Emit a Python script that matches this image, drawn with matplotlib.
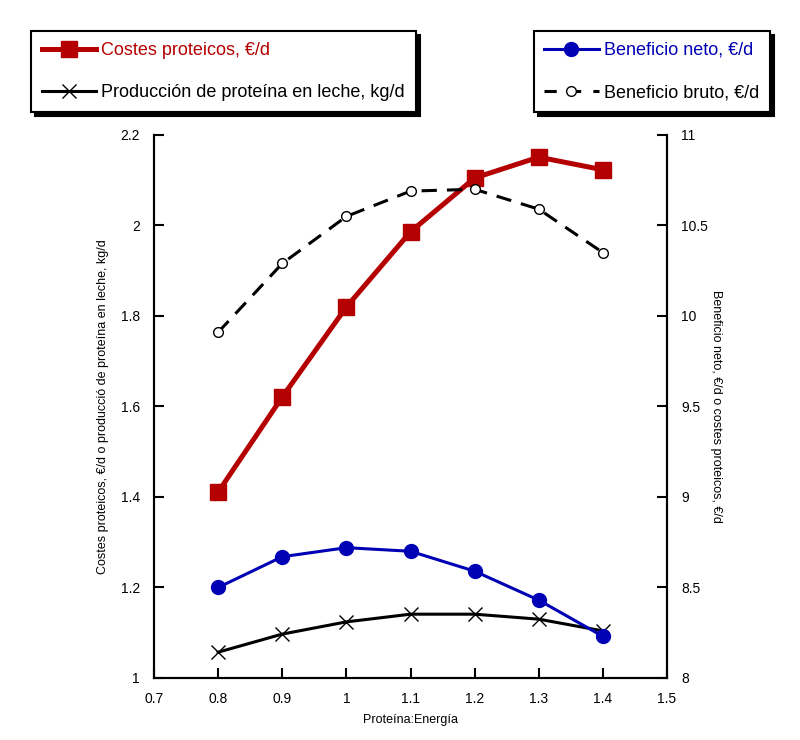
import matplotlib
matplotlib.use("Agg")
import matplotlib.pyplot as plt
from matplotlib.lines import Line2D

plt.rcParams["font.family"] = ["Liberation Sans", "DejaVu Sans"]

# ─── Data ─────────────────────────────────────────────────────────────────────
ratio = [0.8, 0.9, 1.0, 1.1, 1.2, 1.3, 1.4]
costes_proteicos = [1.411, 1.621, 1.82, 1.986, 2.105, 2.151, 2.123]       # left axis
produccion_proteina = [1.057, 1.097, 1.124, 1.141, 1.141, 1.130, 1.104]   # left axis
beneficio_neto = [8.50, 8.67, 8.72, 8.70, 8.59, 8.43, 8.23]               # right axis
beneficio_bruto = [9.91, 10.29, 10.55, 10.69, 10.70, 10.59, 10.35]        # right axis

x_ticks = [0.7, 0.8, 0.9, 1.0, 1.1, 1.2, 1.3, 1.4, 1.5]
x_labels = ["0.7", "0.8", "0.9", "1", "1.1", "1.2", "1.3", "1.4", "1.5"]
left_ticks = [1.0, 1.2, 1.4, 1.6, 1.8, 2.0, 2.2]
left_labels = ["1", "1.2", "1.4", "1.6", "1.8", "2", "2.2"]
right_ticks = [8, 8.5, 9, 9.5, 10, 10.5, 11]
right_labels = ["8", "8.5", "9", "9.5", "10", "10.5", "11"]

RED = "#b40000"
BLUE = "#0000b4"

fig = plt.figure(figsize=(8, 7.4), dpi=100)
ax = fig.add_axes([0.1925, 0.0838, 0.6413, 0.7338])
ax2 = ax.twinx()

ax.plot(ratio, costes_proteicos, color=RED, lw=3.6, marker="s", ms=11,
        mec=RED, mfc=RED, zorder=4)
ax.plot(ratio, produccion_proteina, color="black", lw=2.2, marker="x", ms=10,
        mew=1.0, zorder=3)
ax2.plot(ratio, beneficio_neto, color=BLUE, lw=2.2, marker="o", ms=10,
         mec=BLUE, mfc=BLUE, zorder=3)
ax2.plot(ratio, beneficio_bruto, color="black", lw=2.2, dashes=(5, 3.3),
         marker="o", ms=7, mfc="white", mec="black", mew=1.0, zorder=3)

ax.set_xlim(0.7, 1.5)
ax.set_ylim(1.0, 2.2)
ax2.set_ylim(8, 11)

ax.set_xticks(x_ticks)
ax.set_xticklabels(x_labels, fontsize=10)
ax.set_yticks(left_ticks)
ax.set_yticklabels(left_labels, fontsize=10)
ax2.set_yticks(right_ticks)
ax2.set_yticklabels(right_labels, fontsize=10)

ax.tick_params(axis="both", direction="in", length=7, width=1.5, pad=10)
ax2.tick_params(axis="y", direction="in", length=7, width=1.5, pad=10)

for a in (ax, ax2):
    a.spines["top"].set_visible(False)
    for s in ("left", "right", "bottom"):
        a.spines[s].set_linewidth(1.5)

ax.set_xlabel("Proteína:Energía", fontsize=9, labelpad=6)
ax.set_ylabel("Costes proteicos, €/d o producció de proteína en leche, kg/d",
              fontsize=9, labelpad=8)
ax2.set_ylabel("Beneficio neto, €/d o costes proteicos, €/d",
               fontsize=9, rotation=-90, labelpad=10)

# ─── Legends ──────────────────────────────────────────────────────────────────
h_costes = Line2D([], [], color=RED, lw=3.6, marker="s", ms=11, mec=RED, mfc=RED)
h_prod = Line2D([], [], color="black", lw=2.2, marker="x", ms=10, mew=1.0)
h_neto = Line2D([], [], color=BLUE, lw=2.2, marker="o", ms=10, mec=BLUE, mfc=BLUE)
h_bruto = Line2D([], [], color="black", lw=2.2, dashes=(4, 4), marker="o", ms=7,
                 mfc="white", mec="black", mew=1.0)

shadow = {"color": "black", "alpha": 1.0, "ox": 3, "oy": -3}
leg_kw = dict(fontsize=13, frameon=True, fancybox=False, shadow=shadow,
              handlelength=3.0, handletextpad=0.3, labelspacing=1.4,
              borderpad=0.6, borderaxespad=0)

leg1 = fig.legend([h_costes, h_prod],
                  ["Costes proteicos, €/d", "Producción de proteína en leche, kg/d"],
                  loc="upper left", bbox_to_anchor=(31 / 800, 1 - 31 / 740), **leg_kw)
leg2 = fig.legend([h_neto, h_bruto],
                  ["Beneficio neto, €/d", "Beneficio bruto, €/d"],
                  loc="upper right", bbox_to_anchor=(770 / 800, 1 - 31 / 740), **leg_kw)

for leg in (leg1, leg2):
    leg.get_frame().set_edgecolor("black")
    leg.get_frame().set_linewidth(1.5)

leg1.get_texts()[0].set_color(RED)
leg2.get_texts()[0].set_color(BLUE)

fig.savefig("out.png", dpi=100)
